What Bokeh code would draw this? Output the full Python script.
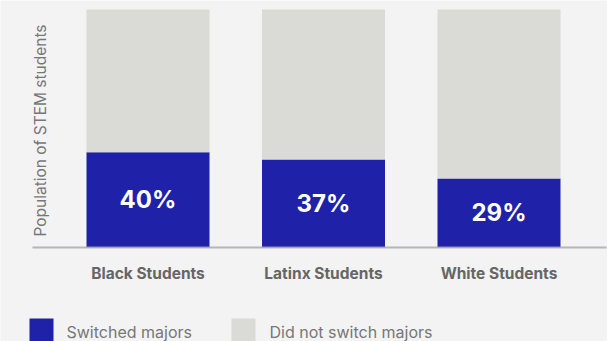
from bokeh.plotting import figure
from bokeh.models import Range1d, ColumnDataSource
from bokeh.core.properties import value
from bokeh.embed import file_html
from bokeh.resources import INLINE
import math

categories = ["Black Students", "Latinx Students", "White Students"]
switched = [40, 37, 29]
not_switched = [100 - v for v in switched]
legend_labels = ["Switched majors", "Did not switch majors"]
y_axis_label = "Population of STEM students"

BLUE = "#1f22a9"
GRAY = "#dadad6"
BG = "#f3f3f3"
FONT = "Inter"

W, H = 607, 341
PX_PER_UNIT = 175.5
X0 = -147.5 / PX_PER_UNIT
BASE_PY, TOP_PY = 247, 9
PY_PER_Y = (BASE_PY - TOP_PY) / 100.0

def xd(px):
    return px / PX_PER_UNIT + X0

def yd(py):
    return (BASE_PY - py) / PY_PER_Y

p = figure(width=W, height=H, output_backend="svg", toolbar_location=None,
           x_range=Range1d(X0, X0 + W / PX_PER_UNIT),
           y_range=Range1d(yd(H), yd(0)),
           min_border=0, background_fill_color=BG, border_fill_color=BG)
p.axis.visible = False
p.grid.visible = False
p.outline_line_color = None

idx = list(range(len(categories)))
src = ColumnDataSource(dict(x=idx, cat=categories, sw=switched, ns=not_switched,
                            top=[s + n for s, n in zip(switched, not_switched)],
                            mid=[s / 2 for s in switched],
                            lab=[f"{s}%" for s in switched]))

bw = 123 / PX_PER_UNIT
p.vbar(x="x", width=bw, bottom=0, top="sw", source=src, fill_color=BLUE, line_color=None)
p.vbar(x="x", width=bw, bottom="sw", top="top", source=src, fill_color=GRAY, line_color=None)

# baseline axis
p.segment(x0=[xd(32)], y0=[0], x1=[xd(606)], y1=[0], line_color="#a9a9b0", line_width=2, line_alpha=0.85)

# percentage labels
p.text(x="x", y="mid", text="lab", source=src, text_color="white",
       text_font=value(FONT), text_font_style="bold", text_font_size="24px",
       text_align="center", text_baseline="middle")

# category labels
p.text(x="x", y=yd(272.5), text="cat", source=src, text_color="#666666",
       text_font=value(FONT), text_font_style="bold", text_font_size="15.5px",
       text_align="center", text_baseline="middle")

# y axis label
p.text(x=[xd(40)], y=[yd(130)], text=[y_axis_label], angle=math.pi / 2,
       text_color="#777777", text_font=value(FONT), text_font_size="15.5px",
       text_align="center", text_baseline="middle")

# legend
p.rect(x=[xd(41), xd(243)], y=[yd(330)] * 2, width=24, height=24,
       width_units="screen", height_units="screen",
       fill_color=[BLUE, GRAY], line_color=None)
p.text(x=[xd(66), xd(269)], y=[yd(331)] * 2, text=legend_labels,
       text_color="#777777", text_font=value(FONT), text_font_size="16px",
       text_align="left", text_baseline="middle")

open("out.html", "w").write(file_html(p, INLINE))
